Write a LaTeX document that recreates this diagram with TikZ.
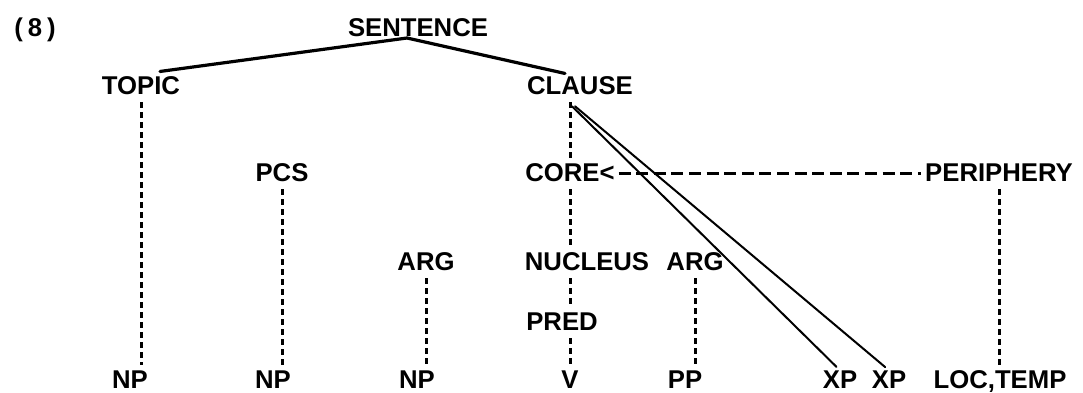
\documentclass[tikz,border=0pt]{standalone}
\usepackage{fontspec}
\setmainfont{Liberation Sans}
\begin{document}
\begin{tikzpicture}[x=1pt,y=-1pt,
  lbl/.style={anchor=base,inner sep=0pt,outer sep=0pt,
    font=\fontsize{25.7}{30}\selectfont\bfseries},
  tree/.style={line width=3.2pt,line cap=round,line join=round},
  diag/.style={line width=2pt,line cap=round,shorten >=5pt},
  vdash/.style={line width=3pt,dash pattern=on 6pt off 4pt,
    shorten <=8pt,shorten >=5pt},
  hdash/.style={line width=3pt,dash pattern=on 12pt off 5.6pt,
    shorten <=4pt,shorten >=4pt}]
\useasboundingbox (0,0) rectangle (1083,392);
% nodes
\node[lbl] (eight)     at (35,36)   {(\kern5pt8\kern5pt)};
\node[lbl] (sentence)  at (418,36)  {SENTENCE};
\node[lbl] (topic)     at (141,94)  {TOPIC};
\node[lbl] (clause)    at (580,94)  {CLAUSE};
\node[lbl] (pcs)       at (282,181) {PCS};
\node[lbl] (core)      at (570,181) {CORE<};
\node[lbl] (periphery) at (999,181) {PERIPHERY};
\node[lbl] (arga)      at (426,270) {ARG};
\node[lbl] (nucleus)   at (587,270) {NUCLEUS};
\node[lbl] (argb)      at (695,270) {ARG};
\node[lbl] (pred)      at (562,330) {PRED};
\node[lbl] (npa)       at (130,388) {NP};
\node[lbl] (npb)       at (273,388) {NP};
\node[lbl] (npc)       at (417,388) {NP};
\node[lbl] (v)         at (570,388) {V};
\node[lbl] (pp)        at (685,388) {PP};
\node[lbl] (xpa)       at (840,388) {XP};
\node[lbl] (xpb)       at (889,388) {XP};
\node[lbl] (loc)       at (1000,388) {LOC,TEMP};
% solid tree lines
\coordinate (apex) at ([xshift=-11pt,yshift=-2pt]sentence.base);
\draw[tree] ([xshift=19pt,yshift=4.6pt]topic.north) -- (apex)
  -- ([xshift=-15pt,yshift=2.6pt]clause.north);
% diagonal lines from CLAUSE to XP XP
\coordinate (cstart) at ([yshift=-12pt]clause.south -| core);
\draw[diag] ([xshift=2pt]cstart) -- (xpa.north);
\draw[diag] ([xshift=5pt]cstart) -- (xpb.north);
% vertical dashed lines
\draw[vdash] (topic.south) -- (topic.south |- npa.north);
\draw[vdash] (pcs.south) -- (pcs.south |- npb.north);
\draw[vdash] (arga.south) -- (arga.south |- npc.north);
\draw[vdash] (clause.south -| core) -- (core.north);
\draw[vdash] (core.south) -- (core.south |- nucleus.north);
\draw[vdash] (nucleus.south -| core) -- (pred.north -| core);
\draw[vdash] (pred.south -| core) -- (v.north -| core);
\draw[vdash] (argb.south) -- (argb.south |- pp.north);
\draw[vdash] (periphery.south) -- (periphery.south |- loc.north);
% horizontal dashed line
\draw[hdash] ([yshift=8pt]core.base east) -- ([yshift=8pt]periphery.base west);
\end{tikzpicture}
\end{document}
